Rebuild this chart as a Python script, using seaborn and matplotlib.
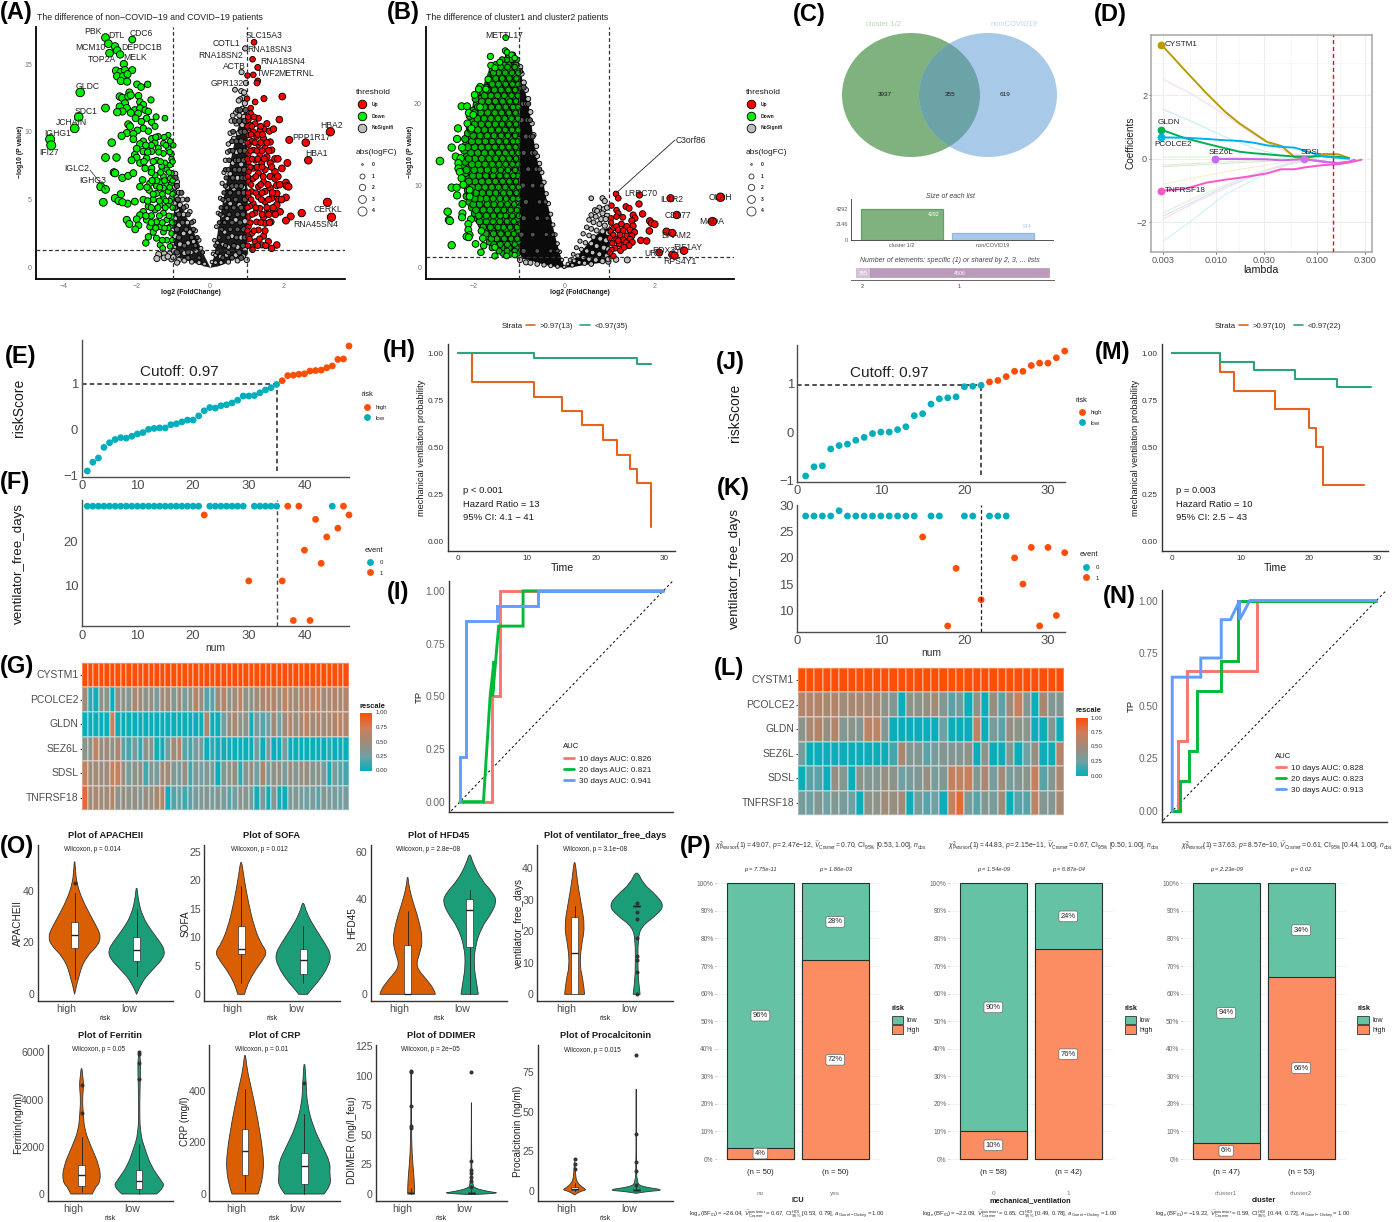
import numpy as np
import pandas as pd
import matplotlib
matplotlib.use("Agg")
import matplotlib.pyplot as plt
from matplotlib.lines import Line2D
from matplotlib.patches import Ellipse, Patch, PathPatch
from matplotlib.path import Path
from matplotlib.colors import LinearSegmentedColormap
from matplotlib.transforms import ScaledTranslation
import seaborn as sns

sns.set_theme(style="white")
plt.rcParams["font.family"] = ["Liberation Sans", "DejaVu Sans"]
plt.rcParams["mathtext.fontset"] = "custom"
plt.rcParams["mathtext.rm"] = "Liberation Sans"
plt.rcParams["mathtext.it"] = "Liberation Sans:italic"
plt.rcParams["mathtext.bf"] = "Liberation Sans:bold"

# ------------------------------------------------------------------ data
# (A) volcano: non-COVID-19 vs COVID-19
a_down = [(-2.85,16.95),(-2.77,16.5),(-2.59,16.3),(-2.53,16.0),(-2.74,15.8),(-2.12,16.8),(-2.45,15.7),(-2.35,15.0),(-2.56,14.5),(-2.44,14.4),(-2.32,14.55),(-2.12,14.55),(-2.53,14.1),(-2.37,14.1),(-2.25,14.25),(-2.43,13.75),(-2.26,13.7),(-1.99,13.5),(-1.88,13.3),(-1.7,13.5),(-3.54,12.9),(-2.2,12.9),(-2.46,12.6),(-2.39,12.5),(-2.23,12.6),(-2.16,12.7),(-1.95,12.65),(-1.61,12.35),(-1.91,12.2),(-2.32,12.1),(-2.46,11.85),(-2.85,11.75),(-1.82,12),(-2.27,11.75),(-2.05,11.6),(-1.91,11.75),(-1.77,11.6),(-2.39,11.5),(-2.16,11.4),(-1.96,11.35),(-1.68,11.5),(-2.53,11.45),(-3.58,11.1),(-2.03,11),(-1.73,11),(-1.47,11.1),(-1.23,11),(-1.87,10.75),(-1.59,10.7),(-2.23,10.55),(-2.18,10.4),(-1.82,10.25),(-1.98,10.1),(-1.5,10.4),(-1.68,10.05),(-3.69,10.25),(-4.36,9.45),(-4.33,9.0),(-2.27,9.9),(-2.09,9.85),(-2.41,9.7),(-1.41,9.65),(-1.14,9.75),(-1.59,9.5),(-2.09,9.45),(-1.82,9.3),(-2.68,9.2),(-1.5,9.2),(-1.27,9.15),(-1.09,9.3),(-1.91,9.1),(-1.68,8.9),(-1.0,9),(-1.41,8.8),(-1.14,8.8),(-2.0,8.75),(-1.82,8.55),(-1.59,8.55),(-1.27,8.4),(-1.05,8.35),(-2.05,8.3),(-2.85,8.1),(-2.55,8.1),(-2,8.1),(-1.73,8.05),(-1.46,7.9),(-2.14,7.9),(-1.05,8),(-1.23,7.7),(-1.91,7.7),(-1.59,7.3),(-1.32,7.45),(-1.09,7.55),(-1.77,7.3),(-1.18,7.2),(-2.62,7),(-2.59,6.95),(-1.05,6.95),(-2.39,6.6),(-2.23,6.75),(-2.09,6.95),(-1.5,6.8),(-1.27,6.7),(-1.09,6.55),(-1.84,6.45),(-1.36,6.3),(-1.64,6.2),(-1.18,6.1),(-1.05,6.2),(-1.46,6),(-1.27,5.85),(-1.91,5.95),(-2.98,5.95),(-2.85,5.75),(-2.43,5.4),(-1.66,5.7),(-1.46,5.45),(-1.14,5.6),(-2.59,5.1),(-2.49,4.9),(-1.82,5),(-1.55,5),(-1.27,5.1),(-1.05,5.1),(-2.91,4.8),(-2.25,4.7),(-2.05,4.85),(-2.39,4.8),(-1.36,4.6),(-1.14,4.6),(-1.68,4.5),(-1.5,4.25),(-1.82,4.1),(-1.27,4),(-1.91,3.85),(-2,3.55),(-2.27,3.5),(-1.05,3.75),(-1.73,3.5),(-1.46,3.35),(-1.18,3.5),(-2.2,3.2),(-1.95,3.1),(-2.04,2.8),(-1.64,3),(-1.36,3),(-1.09,3),(-1.55,2.6),(-1.27,2.6),(-1.05,2.5),(-1.68,2.25),(-1.46,2.15),(-1.18,2.0),(-1.75,1.8),(-1.36,1.65),(-1.09,1.55),(-1.29,1.4)]
a_down_rows = {2.0:[-1.03,-1.3],2.9:[-1.14,-1.24,-1.48],3.3:[-1.03,-1.3,-1.6],3.8:[-1.12,-1.38,-1.6,-1.75],4.4:[-1.02,-1.22,-1.42,-1.6],4.9:[-1.1,-1.2,-1.38,-1.7],5.4:[-1.02,-1.3,-1.55],5.9:[-1.1,-1.37,-1.72],6.4:[-1.02,-1.24,-1.45,-1.58],7.0:[-1.12,-1.35,-1.6],7.8:[-1.02,-1.35,-1.55,-1.8],8.5:[-1.1,-1.4,-1.7],9.0:[-1.2,-1.6,-1.75],9.6:[-1.25,-1.48]}
a_up = [(1.2,16.6),(1.16,15.35),(1.3,14.75),(1.02,14.15),(1.18,14.2),(1.3,13.75),(1.28,13.6),(1.97,12.6),(1.47,12.45),(1.01,12.45),(1.23,12.2),(1.11,11.75),(1.11,11.35),(1.89,10.9),(1.05,10.9),(1.32,11),(1.55,10.6),(1.23,10.6),(1.09,10.5),(1.46,10.2),(1.62,10.05),(1.73,10.2),(1.36,10.1),(1.05,10.25),(1.18,10),(3.28,10),(2.61,9.2),(2.16,9.4),(1.27,9.65),(1.05,9.75),(1.46,9.5),(1.14,9.3),(1.64,9.25),(1.32,9.05),(1.05,9.05),(1.5,8.8),(1.18,8.65),(1.68,8.65),(1.05,8.4),(1.36,8.3),(1.55,8.15),(1.77,8),(2.11,7.7),(2.68,7.9),(1.23,7.9),(1.05,7.8),(1.41,7.7),(1.64,7.7),(1.96,7.3),(1.18,7.3),(1.5,7.2),(1.77,7.05),(1.05,7.05),(1.32,6.95),(1.64,6.7),(1.18,6.55),(1.77,6.55),(1.05,6.3),(1.46,6.3),(2.07,6.25),(2.09,6.0),(2.14,5.95),(1.32,5.95),(1.82,6.05),(1.64,5.85),(1.14,5.6),(1.5,5.6),(1.82,5.45),(1.05,5.2),(1.32,5.2),(2.07,5.15),(1.68,5.1),(1.87,5),(1.5,4.85),(1.18,4.7),(3.2,4.8),(1.82,4.6),(1.09,4.5),(1.36,4.35),(1.73,4.1),(1.91,4.1),(1.55,4),(2.5,4),(1.23,4),(1.05,3.75),(1.46,3.7),(2.2,3.75),(3.31,3.7),(2.07,3.45),(1.66,3.35),(1.27,3.35),(1.5,3.25),(1.05,3),(1.32,2.75),(1.14,2.5),(1.46,2.3),(1.05,2.25),(1.59,1.9),(1.23,1.9),(1.82,1.65),(1.41,1.65),(1.14,1.5),(1.68,1.4),(1.16,1.3)]
a_up_rows = {1.6:[1.03,1.3,1.52],2.1:[1.08,1.35],2.7:[1.2,1.5,1.02],3.3:[1.1,1.38,1.62],3.9:[1.15,1.42,1.6,1.78],4.4:[1.02,1.25,1.55,1.72],5.0:[1.12,1.4,1.6,1.95],5.5:[1.04,1.25,1.42,1.7],6.1:[1.12,1.38,1.58,1.9],6.7:[1.03,1.25,1.45,1.85],7.4:[1.1,1.28,1.42,1.68],8.0:[1.02,1.15,1.3,1.48,1.85],8.6:[1.1,1.28,1.42,1.6],9.2:[1.02,1.22,1.38,1.55],9.8:[1.12,1.3,1.43],10.4:[1.02,1.14,1.38],11.1:[1.04,1.2]}
a_grey = [(.96,16.15),(.86,14.4),(.98,13.6),(.68,13.1),(.85,13),(.93,12.9),(.9,12.5),(.82,12.4),(.78,12.3),(.95,12.1),(.88,11.7),(.7,11.4),(.62,11.2),(.8,11.2),(.93,11.1),(.58,10.8),(.72,10.6),(.88,10.5),(.55,9.9),(.78,9.9),(.65,9.5),(.5,9.1),(.92,9.2),(.48,8.5),(.72,8.5),(.42,7.9),(.62,7.7),(.85,7.6),(.38,7),(.55,6.9),(.75,6.6),(.33,6.2),(.47,5.9),(.65,5.8),(.9,5.9),(.28,5.1),(.4,4.9),(.55,4.7),(.8,4.6),(.22,4),(.33,3.8),(.47,3.6),(.7,3.5),(.95,3.4),(.17,3),(.28,2.8),(.4,2.6),(.6,2.3),(.85,2.2),(.12,2),(.2,1.8),(.35,1.7),(.5,1.5),(.75,1.5),(.95,1.35),(.08,1),(.15,.9),(.28,.8),(.45,.9),(.7,.9),(.9,.8),(1.0,.55),(.05,.4),(.15,.35),(.3,.35),(.5,.4),(.75,.5),(-.95,6.9),(-.98,6.5),(-.9,6.3),(-.96,5.9),(-.85,5.5),(-.92,5.2),(-.75,5),(-.97,4.7),(-.82,4.6),(-.65,4.5),(-.9,4.2),(-.55,4.1),(-.72,3.9),(-.96,3.6),(-.45,3.4),(-.62,3.3),(-.85,3.1),(-.4,2.7),(-.55,2.6),(-.72,2.5),(-.95,2.3),(-.3,2),(-.45,1.9),(-.6,1.8),(-.82,1.7),(-.98,1.45),(-.25,1.4),(-.38,1.2),(-.52,1.1),(-.7,1.05),(-.88,.95),(-1.1,1.0),(-1.25,1.0),(-1.4,.95),(-1.45,.65),(-1.25,.7),(-1.05,.6),(-.85,.55),(-.7,.5),(-.5,.4),(-.3,.35),(-.15,.25),(-.9,.35),(-1.15,.8),(-1.0,.75),(-.98,1.2)]
a_grey_rows = {.7:[-.6,-.3,.35,.6,.85],1.1:[-.9,-.6,-.2,.2,.5,.8],1.6:[-.7,-.4,.15,.42,.65,.9],2.2:[-.85,-.5,-.35,.25,.5,.72,.95],2.8:[-.9,-.65,-.45,.32,.55,.75,.92],3.3:[-.98,-.75,-.5,.25,.4,.6,.82],3.9:[-.85,-.6,.28,.52,.75,.9],4.4:[-.95,-.72,.3,.45,.65,.85],5.0:[-.88,-.62,.35,.5,.7,.95],5.5:[-.98,-.78,.38,.55,.78,.92],6.0:[-.9,.42,.6,.72,.85],6.6:[-.94,.44,.62,.88,.97],7.2:[.42,.5,.68,.8,.93],7.9:[.52,.7,.78,.92],8.6:[.55,.62,.82,.95],9.3:[.6,.72,.85],10.0:[.63,.85,.95],10.8:[.68,.8,.95],11.6:[.75,.82,.97]}
# envelope of the dense non-significant wedge
a_cloud_x = [-1,-.85,-.7,-.5,-.3,-.15,0,.1,.2,.3,.4,.5,.6,.7,.8,.9,1]
a_cloud_hi = [5.8,5,4,2.9,1.7,.8,0,.9,2.7,4.3,5.8,7.3,8.6,9.8,10.8,11.4,11.5]
a_cloud_lo = [.9,.75,.6,.4,.25,.1,0,.06,.1,.2,.3,.45,.6,.7,.8,.85,.9]

# (B) volcano: cluster1 vs cluster2
b_down = [(-1.3,28.1),(-1.31,26.5),(-1.27,26.3),(-1.64,25.8),(-1.17,26),(-1.1,25.6),(-1.63,24.7),(-1.43,25.1),(-1.54,24.4),(-1.69,23),(-1.87,22.1),(-1.9,21.8),(-1.74,21.8),(-1.99,21.1),(-2.28,19.7),(-2.16,19.7),(-1.87,19.6),(-2.12,18.9),(-2.02,18.65),(-2.15,17.6),(-2.36,17),(-2.06,17),(-2.38,15.7),(-2.5,14.65),(-2.27,14.65),(-2.76,13),(-2.41,13.55),(-2.3,13.35),(-2.35,12.75),(-2.35,12.1),(-2.32,11.67),(-2.28,10.9),(-2.24,10.1),(-2.5,9.75),(-2.39,9.75),(-2.1,9.45),(-2.38,8.8),(-2.1,8.65),(-2.26,7.75),(-2.59,6.8),(-2.26,6.6),(-2.56,5.8),(-2.54,5.67),(-2.27,6.12),(-2.07,5.88),(-2.13,5.3),(-2.13,4.57),(-1.84,4.45),(-2.1,3.96),(-2.17,3.76),(-2.12,3.67),(-1.81,3.55),(-1.97,2.86),(-2.5,2.7),(-1.79,2.65),(-1.85,1.84),(-1.54,1.39),(-1.54,2.45),(-1.28,1.39),(-1.1,1.5)]
b_down_rows = {
 1.7:[-1.03,-1.19,-1.36], 2.4:[-1.06,-1.22,-1.38,-1.6], 3.1:[-1.02,-1.15,-1.31,-1.47,-1.66],
 3.8:[-1.07,-1.21,-1.37,-1.53,-1.7], 4.5:[-1.03,-1.16,-1.28,-1.44,-1.6,-1.76], 5.2:[-1.08,-1.23,-1.39,-1.52,-1.68,-1.84],
 5.9:[-1.04,-1.17,-1.31,-1.46,-1.62,-1.77,-1.92], 6.6:[-1.09,-1.24,-1.37,-1.55,-1.7,-1.86,-1.99], 7.3:[-1.02,-1.15,-1.3,-1.45,-1.6,-1.75,-1.93,-2.05],
 8.0:[-1.06,-1.21,-1.36,-1.5,-1.66,-1.82,-1.97,-2.11], 8.7:[-1.03,-1.17,-1.32,-1.47,-1.62,-1.78,-1.9,-2.03,-2.17], 9.4:[-1.08,-1.24,-1.4,-1.55,-1.7,-1.86,-2.0,-2.14],
 10.1:[-1.04,-1.19,-1.33,-1.48,-1.63,-1.79,-1.93,-2.08,-2.2], 10.8:[-1.1,-1.26,-1.41,-1.57,-1.72,-1.87,-2.02,-2.15], 11.5:[-1.02,-1.16,-1.3,-1.46,-1.6,-1.76,-1.9,-2.05,-2.2],
 12.2:[-1.07,-1.22,-1.38,-1.53,-1.68,-1.83,-1.97,-2.12,-2.25], 12.9:[-1.03,-1.18,-1.33,-1.47,-1.63,-1.79,-1.94,-2.08,-2.2], 13.6:[-1.09,-1.25,-1.4,-1.56,-1.71,-1.86,-2.01,-2.16],
 14.3:[-1.04,-1.19,-1.34,-1.49,-1.65,-1.8,-1.95,-2.1,-2.22], 15.0:[-1.1,-1.26,-1.41,-1.57,-1.73,-1.88,-2.03,-2.18], 15.7:[-1.02,-1.17,-1.32,-1.48,-1.63,-1.78,-1.93,-2.09,-2.2],
 16.4:[-1.07,-1.23,-1.39,-1.54,-1.69,-1.85,-2.0,-2.14], 17.1:[-1.03,-1.18,-1.34,-1.49,-1.64,-1.8,-1.95,-2.1], 17.8:[-1.09,-1.25,-1.41,-1.56,-1.72,-1.87,-2.03],
 18.5:[-1.04,-1.2,-1.35,-1.5,-1.66,-1.82,-1.96,-2.1], 19.2:[-1.1,-1.26,-1.42,-1.58,-1.73,-1.88,-2.02], 19.9:[-1.03,-1.18,-1.34,-1.5,-1.65,-1.8,-1.95],
 20.6:[-1.08,-1.24,-1.4,-1.56,-1.72,-1.86,-1.97], 21.3:[-1.04,-1.2,-1.36,-1.52,-1.67,-1.8], 22.0:[-1.1,-1.27,-1.43,-1.58,-1.73],
 22.7:[-1.03,-1.19,-1.35,-1.5,-1.64], 23.4:[-1.08,-1.24,-1.41,-1.55], 24.1:[-1.04,-1.2,-1.36,-1.48,-1.6],
 24.8:[-1.07,-1.23,-1.33,-1.52], 25.4:[-1.05,-1.17,-1.28,-1.38], 26.0:[-1.14,-1.24],
 2.0:[-1.1,-1.27,-1.45], 2.8:[-1.1,-1.26,-1.42,-1.56], 3.5:[-1.04,-1.18,-1.33,-1.5,-1.62],
 4.1:[-1.12,-1.25,-1.41,-1.57,-1.74], 4.9:[-1.05,-1.2,-1.35,-1.47,-1.64,-1.8], 5.6:[-1.12,-1.27,-1.43,-1.58,-1.73,-1.88],
 6.3:[-1.01,-1.15,-1.3,-1.42,-1.57,-1.73,-1.9], 7.0:[-1.05,-1.19,-1.34,-1.49,-1.65,-1.8,-1.96], 7.7:[-1.11,-1.26,-1.41,-1.56,-1.71,-1.88,-2.02],
 8.4:[-1.02,-1.14,-1.29,-1.43,-1.58,-1.73,-1.86,-1.99], 9.1:[-1.06,-1.21,-1.35,-1.52,-1.66,-1.82,-1.96,-2.1], 9.8:[-1.01,-1.15,-1.31,-1.46,-1.61,-1.76,-1.91,-2.05],
 10.5:[-1.07,-1.22,-1.37,-1.53,-1.68,-1.83,-1.98,-2.12], 11.2:[-1.03,-1.13,-1.28,-1.43,-1.58,-1.74,-1.89,-2.03], 11.9:[-1.09,-1.25,-1.41,-1.56,-1.71,-1.86,-2.0,-2.17],
 12.6:[-1.02,-1.15,-1.3,-1.45,-1.6,-1.76,-1.91,-2.05], 13.3:[-1.07,-1.22,-1.37,-1.52,-1.67,-1.83,-1.98,-2.12], 14.0:[-1.02,-1.16,-1.31,-1.46,-1.62,-1.77,-1.92,-2.07],
 14.7:[-1.08,-1.23,-1.38,-1.54,-1.69,-1.84,-1.99,-2.14], 15.4:[-1.03,-1.14,-1.29,-1.45,-1.6,-1.75,-1.9,-2.05], 16.1:[-1.09,-1.25,-1.4,-1.56,-1.71,-1.87,-2.02],
 16.8:[-1.02,-1.16,-1.31,-1.46,-1.62,-1.77,-1.92,-2.07], 17.5:[-1.07,-1.22,-1.38,-1.53,-1.68,-1.84,-1.99], 18.2:[-1.03,-1.17,-1.32,-1.47,-1.63,-1.78,-1.93],
 18.9:[-1.08,-1.23,-1.39,-1.54,-1.7,-1.85,-1.99], 19.6:[-1.02,-1.14,-1.3,-1.46,-1.62,-1.77,-1.92], 20.3:[-1.07,-1.21,-1.37,-1.53,-1.68,-1.83],
 21.0:[-1.03,-1.17,-1.33,-1.48,-1.63,-1.77], 21.7:[-1.09,-1.24,-1.4,-1.55,-1.7], 22.4:[-1.02,-1.15,-1.3,-1.46,-1.6], 23.1:[-1.06,-1.22,-1.38,-1.52], 23.8:[-1.02,-1.16,-1.31,-1.46,-1.57], 24.5:[-1.1,-1.26,-1.41]}
b_up = [(1.15,8.98),(1.2,8.45),(1.67,8.85),(2.36,8.45),(3.47,8.57),(1.05,7.55),(1.37,7.43),(1.44,7.22),(1.66,7.75),(1.16,7),(1.2,6.6),(1.16,6.2),(1.3,6.12),(2.5,6.4),(1.74,6.53),(1.53,6.4),(1.57,6),(1.5,5.7),(1.04,6),(3.29,5.6),(1.9,5.67),(1.94,5.4),(2.01,5.27),(1.04,5.47),(1.53,5.06),(1.27,5.3),(1.09,4.78),(1.16,5),(1.39,5),(1.46,4.57),(1.03,4.37),(1.2,4.57),(1.31,4.5),(1.89,4.45),(1.56,4.29),(2.27,4.37),(2.4,4.2),(1.09,3.96),(1.24,3.96),(1.39,3.84),(1.5,3.84),(1.01,3.55),(1.16,3.43),(1.31,3.35),(1.46,3.43),(1.7,3.3),(1.83,3.22),(1.07,2.94),(1.22,2.86),(1.37,3.02),(1.51,3.06),(1.13,2.33),(1.25,2.04),(1.44,2.65),(1.05,2.12),(2.66,2.04),(2.11,1.8),(2.4,1.55),(2.45,1.43),(1.09,1.39),(1.01,1.8),(1.33,2.45),(1.2,3.27)]
b_grey = [(-.98,24.5),(-.95,23.7),(-.9,22.6),(-.85,21.7),(-.8,20.6),(-.75,19),(-.72,17.6),(-.68,16.2),(-.62,14.8),(-.6,13.6),(-.55,12.7),(-.5,11.6),(-.45,10.4),(-.4,9),(-.35,7.8),(-.3,6.5),(-.25,5.2),(-.2,4),(-.15,2.9),(-.1,1.9),(-.05,.9),(-1,1.3),(-.98,.9),(-.85,.6),(-.75,.55),(-.6,.4),(-.45,.3),(-.3,.2),(-.15,.1),(0,.05),(.6,8.45),(.85,8.45),(.9,8.1),(.78,7.3),(.88,7.1),(.95,7.3),(.68,7),(.73,6.9),(.85,6.6),(.95,6.3),(.6,6.4),(.7,6.2),(.82,5.9),(.92,5.9),(.55,5.8),(.65,5.5),(.78,5.3),(.9,5.1),(.5,4.9),(.6,4.7),(.72,4.5),(.85,4.4),(.97,4.2),(.42,4.1),(.55,3.9),(.65,3.7),(.8,3.5),(.93,3.3),(.35,3.2),(.47,3),(.6,2.9),(.72,2.6),(.88,2.4),(.98,2.2),(.27,2.4),(.38,2.2),(.5,2),(.63,1.8),(.78,1.6),(.95,1.4),(.2,1.6),(.3,1.4),(.42,1.2),(.55,1),(.7,.9),(.85,.75),(.98,.7),(.13,.9),(.22,.8),(.33,.6),(.45,.5),(.6,.4),(.08,.4),(.18,.25),(1.15,.95),(1.4,.9),(.98,1.0)]
b_grey_rows = {2:[-.9,-.6,-.3,-.15],4:[-.95,-.7,-.4,-.25],6:[-.9,-.6,-.38],8:[-.85,-.55,-.42],10:[-.92,-.7,-.5],12:[-.8,-.62,-.55],14:[-.9,-.72,-.65],16:[-.85,-.75,-.7],18:[-.95,-.82,-.76],20:[-.92,-.85,-.8],22:[-.97,-.9],24:[-.98]}
b_cloud_x = [-1,-.9,-.8,-.7,-.6,-.5,-.4,-.3,-.2,-.1,0,.2,.4,.6,.8,1]
b_cloud_hi = [24.5,22,20,16,13,11,8.3,6,3.6,1.6,0,1,2.2,3.5,4.5,5]
b_cloud_lo = [1.2,1.05,.95,.8,.6,.45,.3,.2,.1,.05,0,.1,.3,.45,.6,.7]
b_dense_x = [-2.15,-2.0,-1.9,-1.8,-1.7,-1.5,-1.3,-1.15,-1]
b_dense_hi = [18,20.5,21.5,22.5,24,25,26,26,25]
b_dense_lo = [9,7,5.5,4.5,3.5,2.5,2,1.6,1.4]

a_labels = [("PBK",280,95),("DTL",350,108),("CDC6",425,102),("MCM10",270,143),("DEPDC1B",424,142),("TOP2A",306,180),("MELK",406,174),("GLDC",264,259),("SDC1",259,333),("JCHAIN",214,367),("IGHG1",174,400),("IFI27",146,457),("IGLC2",231,506),("IGHG3",277,542),("SLC15A3",792,108),("COTL1",679,132),("RNA18SN3",810,150),("RNA18SN2",663,165),("RNA18SN4",848,184),("ACTB",702,199),("TWF2",805,222),("METRNL",889,222),("GPR132",681,251),("HBA2",995,378),("PPP1R17",934,412),("HBA1",948,462),("CERKL",985,628),("RNA45SN4",946,673)]
b_labels = [("METTL17",314,105),("C3orf86",874,421),("LRRC70",723,582),("IL1R2",815,598),("OLAH",961,593),("CD177",835,645),("MADA",936,665),("DAAM2",828,708),("EIF1AY",864,743),("RDX3Y",800,752),("URY",760,760),("RPS4Y1",840,785)]

# (C) Venn and list sizes
venn_counts = {"cluster only": 3937, "shared": 355, "non only": 619}
list_names = ["cluster 1/2", "non/COVID19"]
list_sizes = [4292, 974]
shared_sizes = [355, 4506]

# (D) LASSO paths
lam_grid = [0.0029,0.0049,0.0081,0.0123,0.0171,0.0239,0.0319,0.0445,0.0595,0.0762,0.1155,0.161,0.207]
coef_cystm1 = [3.58,2.79,2.05,1.48,1.11,.80,.53,.40,.06,0,.15,.14,.02]
coef_gldn = [.91,.65,.47,.33,.22,.17,.14,.10,.07,.07,.08,.06,.02]
coef_pcolce2 = [.67,.66,.62,.58,.56,.50,.42,.37,.35,.25,.07,.03,0]
lam_sez6l = [.0097,.0171,.0239,.0319,.0445,.0595,.0762,.1155,.161,.207,.235]
coef_sez6l = [-.01,-.01,-.01,-.02,-.05,-.03,-.02,-.10,-.13,-.09,-.03]
lam_sdsl = [.0735,.1155,.161,.207,.235]
coef_sdsl = [-.02,-.08,-.15,-.1,-.05]
lam_tnf = lam_grid + [.276]
coef_tnf = [-1.0,-.95,-.75,-.66,-.60,-.53,-.46,-.33,-.33,-.27,-.2,-.17,-.12,-.03]
lam_faint = [0.003,0.006,0.012,0.025,0.05,0.1]
faint_paths = {"#FBD5EE":[2.5,2.0,1.4,.7,.2,0],"#BDEBF5":[1.55,1.15,.7,.3,.08,0],"#D6F0D6":[.05,.06,.05,.02,0,0],"#E6E6D0":[-.2,-.15,-.1,-.05,-.02,0],"#CDEBD0":[-.25,-.2,-.15,-.1,-.04,0],"#F3EFC8":[-.8,-.6,-.42,-.25,-.1,0],"#DCEFD5":[-1.7,-1.25,-.85,-.45,-.15,0],"#CFE4F5":[-1.8,-1.35,-.9,-.5,-.18,0],"#FAD9F0":[-1.9,-1.4,-.95,-.5,-.15,0],"#C9F0F8":[-2.6,-1.9,-1.15,-.62,-.2,0]}
lam_cut = 0.1445

# (E)(F) training risk
risk_e = [-.9,-.71,-.62,-.39,-.29,-.22,-.18,-.19,-.15,-.1,-.07,0,.02,.03,.03,.1,.12,.16,.2,.2,.29,.4,.47,.46,.51,.53,.57,.63,.72,.72,.73,.79,.85,.9,.97,1.05,1.16,1.17,1.19,1.2,1.26,1.27,1.28,1.33,1.37,1.51,1.52,1.8]
days_f = [28]*21+[26]+[28]*7+[11]+[28]*5+[11,28,2,28,18,2,25,15,21,28,23,28,26]
event_f = [0]*21+[1]+[0]*7+[1]+[0]*5+[1,1,1,1,1,1,1,1,1,0,1,1,1]
genes = ["CYSTM1","PCOLCE2","GLDN","SEZ6L","SDSL","TNFRSF18"]
heat_g = [
 [1]*48,
 [.5,.1,.05,.4,.4,0,.45,.4,.35,.55,.5,.4,.45,.3,.5,.5,.35,.5,.3,.4,.6,.45,.2,.2,.5,.6,.4,.5,.65,.4,.4,.5,.55,.6,.6,.45,.65,.55,.5,.6,.6,.65,.7,.5,.55,.6,.55,.6],
 [.02,.02,.02,.02,.02,.7,.02,.02,.02,.02,.02,.02,.02,.02,.02,.03,.03,.03,.03,.03,.03,.03,.55,.03,.03,.3,.45,.55,.4,.4,.05,.3,.2,.25,.5,.25,.5,.6,.45,.55,.65,.5,.6,.5,.55,.6,.65,.6],
 [.4,.4,.65,.45,.5,.4,.55,.2,.15,.3,.1,.4,.4,.05,.05,.3,.5,.6,.2,.15,.3,.3,.02,.1,.05,.05,.05,.02,.02,.02,.02,.3,.02,.3,.02,.02,.3,.02,.02,.02,.02,.02,.02,.02,.1,.02,.02,.02],
 [.7,.5,.5,.45,.5,.7,.7,.45,.3,.4,.45,.15,.35,.3,.5,.5,.35,.3,.45,.15,.35,.25,.35,.3,.02,.35,.4,.45,.1,.35,.45,.25,.55,.3,.4,.45,.3,.45,.35,.45,.45,.35,.4,.3,.05,.3,.2,.15],
 [.85,.5,.55,.5,.5,.6,.4,.45,.4,.45,.35,.45,.45,.55,.6,.05,.2,.25,.15,.2,.3,.35,.35,.3,.35,.3,.2,.25,.4,.35,.3,.05,.3,.02,.35,.05,.02,.3,.35,.3,.25,.3,.2,.35,.3,.3,.25,.3]]

# (H)(I) training survival / ROC
km_h_hi_t = [0,2,11,15,18,21,23,25,26,28,28]
km_h_hi_s = [1,.846,.769,.692,.615,.538,.46,.385,.307,.077,.077]
km_h_lo_t = [0,11,26,28]
km_h_lo_s = [1,.971,.943,.943]
roc_i = {
 "10 days AUC: 0.826": ([0,.155,.155,.195,.195,.3,1],[0,0,.5,.5,1,1,1]),
 "20 days AUC: 0.821": ([0,.115,.148,.167,.16,.19,.31,.31,.375,1],[0,0,.5,.667,.5,.833,.833,1,1,1]),
 "30 days AUC: 0.941": ([0,0,.03,.03,.18,.18,.385,.385,1],[0,.214,.214,.857,.857,.929,.929,1,1])}

# (J)(K)(L) validation risk
risk_j = [-.91,-.72,-.7,-.35,-.28,-.25,-.17,-.11,-.03,0,0,.05,.11,.34,.38,.58,.69,.71,.73,.94,.95,.97,1.04,1.07,1.15,1.26,1.26,1.38,1.43,1.43,1.54,1.68]
days_k = [28,28,28,28,29,28,28,28,28,28,28,28,28,28,24,28,28,7,18,28,28,12,28,28,28,20,15,22,7,22,9,21]
event_k = [0]*14+[1,0,0,1,1,0,0,1,0,0,0,1,1,1,1,1,1,1]
heat_l = [
 [1]*32,
 [.6,.6,.6,.55,.6,.5,.55,.55,.55,.55,.4,.35,.02,.4,.4,.45,.5,.35,.2,.3,.02,.4,.02,.45,.2,.5,.7,.35,.02,.55,.35,.35],
 [.4,.55,.6,.45,.6,.35,.4,.35,.65,.65,.35,.03,.03,.03,.03,.03,.03,.25,.03,.03,.03,.65,.03,.3,.2,.45,.4,.4,.03,.03,.35,.03],
 [.3,.03,.03,.03,.03,.03,.03,.03,.03,.03,.03,.15,.55,.35,.35,.2,.3,.35,.35,.35,.4,.03,.4,.03,.03,.35,.03,.25,.45,.03,.03,.6],
 [.03,.2,.2,.03,.45,.35,.03,.4,.35,.35,.45,.4,.25,.3,.35,.45,.3,.35,.7,.65,.7,.35,.55,.3,.5,.3,.35,.4,.7,.2,.35,.55],
 [.3,.25,.35,.25,.35,.3,.25,.03,.4,.4,.5,.45,.5,.03,.3,.2,.25,.03,.7,.85,.3,.2,.35,.3,.5,.03,.2,.2,.65,.35,.35,.55]]

# (M)(N) validation survival / ROC
km_m_hi_t = [0,7,9,15,20,21,22,28]
km_m_hi_s = [1,.9,.8,.7,.6,.5,.3,.3]
km_m_lo_t = [0,7,12,18,24,29]
km_m_lo_s = [1,.955,.91,.864,.818,.818]
roc_n = {
 "10 days AUC: 0.828": ([0,.03,.03,.07,.07,.415,.415,1],[0,0,.333,.333,.667,.667,1,1]),
 "20 days AUC: 0.823": ([0,.04,.04,.08,.08,.12,.12,.24,.24,.32,.32,1],[0,0,.143,.143,.286,.286,.571,.571,.714,.714,1,1]),
 "30 days AUC: 0.913": ([0,0,.14,.14,.24,.24,.285,.33,.33,.38,1],[0,.636,.636,.727,.727,.909,.909,1,.909,1,1])}

# (O) violin profiles: (value, half width in reference zoom units)
apache_high = ([0,8,14.5,19,22.3,24.8,30,36.4,42.8,48,52.5],[0,10,27,55,60,55,38,18,5,2,0])
apache_low = ([0,5,10,14,17,20,25,30,36,43],[0,12,40,62,65,55,32,14,4,0])
sofa_high = ([0,1.3,3.7,6,7.4,9,11.9,16,20.7,24],[8,12,28,50,60,45,30,17,6,0])
sofa_low = ([0,.8,2.5,4.9,6.9,9,11.3,14.2,16.6],[10,18,38,58,65,50,30,8,0])
hfd_high = ([0,1.8,6,11.7,17.3,22.9,31.3,38.4,45.4,51],[64,62,45,18,28,35,26,13,3,0])
hfd_low = ([0,6,11.7,20,28.5,34,39,42.6,48,55,60],[20,15,10,12,28,50,62,55,28,8,0])
vent_high = ([0,4.5,8.8,15,21.4,28.8,36,43.8],[23,20,12,15,24,15,6,0])
vent_low = ([0,4.5,8.8,17.2,21.4,25,28,31.5,35,39.6],[8,4,3,3,10,45,64,45,15,0])
ferr_high = ([0,240,522,1158,2005,2710,3417,3981,4617,4970,5464],[25,30,44,42,22,7,4,2,5,3,0])
ferr_low = ([0,310,593,1158,1864,2570,3840,5110,5675,6057],[40,60,50,28,14,2,1,3,3,0])
crp_high = ([0,28,93,157,286,415,480,557],[30,36,43,42,30,14,5,0])
crp_low = ([0,35,80,119,183,260,351,428,534],[45,62,58,60,42,20,6,4,0])
ddimer_high = ([0,6,17.5,34,62,121.6],[8,8,6,2,.5,0])
ddimer_low = ([-.5,.5,2,4.8,7.6,20,103],[0,70,40,8,3,.4,0])
procal_high = ([-2.5,-.4,.6,2,4.8,9,22.6],[0,10,28,20,7,2,0])
procal_low = ([-1.5,-.4,.6,2.7,5.9,15,86.5],[0,20,70,10,2,.4,0])
# box summaries: q1, median, q3, whisker low, whisker high, outliers
box_stats = {
 "apache_high":(18,23,28,6,39,[43]),"apache_low":(13,17,22,7,33,[]),
 "sofa_high":(7,8,12,2,19,[]),"sofa_low":(3.5,6,8,2,12,[]),
 "hfd_high":(0,0,21,0,35,[]),"hfd_low":(20,35.5,40,0,44,[]),
 "vent_high":(0,13,24.5,0,28,[]),"vent_low":(27.7,28,28.2,27.7,28.2,[29,26,24,18,12,11,7,0]),
 "ferr_high":(360,820,1230,100,2400,[3430,4610]),"ferr_low":(200,570,1000,0,2100,[4850,5530,5950,6000]),
 "crp_high":(75,165,253,10,405,[]),"crp_low":(40,110,157,0,310,[430]),
 "ddimer_high":(.5,1,2,0,5,[57,56,74,103,104]),"ddimer_low":(.6,1,1.6,0,3,[103,28,20,18,14,11,6]),
 "procal_high":(.5,1,2.5,0,5,[14,17,20]),"procal_low":(.3,.6,1.5,0,3,[86,36,18,12.5,4])}

# (P) stacked proportions
p_cats = [["no","yes"],["0","1"],["cluster1","cluster2"]]
p_high = [[.04,.72],[.10,.76],[.06,.66]]
p_n = [[50,50],[58,42],[47,53]]
p_pvals = [["7.75e-11","1.86e-03"],["1.54e-09","6.87e-04"],["2.23e-09","0.02"]]
p_xlabels = ["ICU","mechanical_ventilation","cluster"]
p_top = [r"$\chi^2_{\mathrm{Pearson}}(1)=49.07$, $p=2.47\mathrm{e}{-}12$, $\widehat{V}_{\mathrm{Cramer}}=0.70$, CI$_{95\%}$ [0.53, 1.00], $n_{\mathrm{obs}}$",
         r"$\chi^2_{\mathrm{Pearson}}(1)=44.83$, $p=2.15\mathrm{e}{-}11$, $\widehat{V}_{\mathrm{Cramer}}=0.67$, CI$_{95\%}$ [0.50, 1.00], $n_{\mathrm{obs}}$",
         r"$\chi^2_{\mathrm{Pearson}}(1)=37.63$, $p=8.57\mathrm{e}{-}10$, $\widehat{V}_{\mathrm{Cramer}}=0.61$, CI$_{95\%}$ [0.44, 1.00], $n_{\mathrm{obs}}$"]
p_bot = [r"$\log_e(\mathrm{BF}_{01})=-26.04$, $\widehat{V}^{\mathrm{posterior}}_{\mathrm{Cramer}}=0.67$, CI$^{\mathrm{HDI}}_{95\%}$ [0.53, 0.79], $a_{\mathrm{Gunel-Dickey}}=1.00$",
         r"$\log_e(\mathrm{BF}_{01})=-22.09$, $\widehat{V}^{\mathrm{posterior}}_{\mathrm{Cramer}}=0.65$, CI$^{\mathrm{HDI}}_{95\%}$ [0.49, 0.78], $a_{\mathrm{Gunel-Dickey}}=1.00$",
         r"$\log_e(\mathrm{BF}_{01})=-19.22$, $\widehat{V}^{\mathrm{posterior}}_{\mathrm{Cramer}}=0.59$, CI$^{\mathrm{HDI}}_{95\%}$ [0.44, 0.72], $a_{\mathrm{Gunel-Dickey}}=1.00$"]

# ------------------------------------------------------------------ helpers
W, H = 1392, 1222
SXC, SXO, SXP = 1568/572, 1568/680, 1568/712   # horizontal reading scales of the measured crops
fig = plt.figure(figsize=(W/100, H/100), dpi=100, facecolor="white")
DARK = "#333333"; GRAY = "#4D4D4D"
RED = "#FC4E07"; TEAL = "#00AFBB"
ORANGE = "#D95F02"; GREEN = "#1B9E77"

def axpx(l, t, r, b, **kw):
    return fig.add_axes([l/W, 1-b/H, (r-l)/W, (b-t)/H], **kw)

def T(x, y, s, **kw):
    kw.setdefault("ha", "center"); kw.setdefault("va", "center"); kw.setdefault("color", "#1a1a1a")
    return fig.text(x/W, 1-y/H, s, **kw)

def classic(ax, lw=1.0, color=DARK):
    for k in ("top", "right"):
        ax.spines[k].set_visible(False)
    for k in ("left", "bottom"):
        ax.spines[k].set_visible(True)
        ax.spines[k].set_linewidth(lw); ax.spines[k].set_color(color)
    ax.set_facecolor("white"); ax.grid(False)
    ax.set_xlabel(""); ax.set_ylabel("")

def legend_px(handles, labels, left, marker_x, label_x, first_y, pitch, fs, **kw):
    px = fs*100/72
    hl = 2*(marker_x-left)/px
    htp = (label_x-left-2*(marker_x-left))/px
    ls = pitch/px-1.0
    props = kw.pop("prop", {"size": fs})
    leg = fig.legend(handles, labels, loc="upper left", bbox_to_anchor=(left/W, 1-(first_y-0.58*px)/H),
                     frameon=False, prop=props, handlelength=hl, handletextpad=htp, labelspacing=ls,
                     borderpad=0, borderaxespad=0, **kw)
    for t in leg.get_texts():
        t.set_color("#222222")
    return leg

def pts(lst, rows=None):
    lst = list(lst)
    if rows:
        lst += [(x, y) for y, xs in rows.items() for x in xs]
    arr = np.array(lst, dtype=float)
    return arr[:, 0], arr[:, 1]

def volcano(ax, groups, size_norm=(0, 4)):
    for xs, ys, col, z in groups:
        sns.scatterplot(x=xs, y=ys, size=np.abs(xs), sizes=(6, 42), size_norm=size_norm, color=col,
                        edgecolor="black", linewidth=.65, legend=False, ax=ax, zorder=z)

def volcano_finish(ax, xlim, ylim, xt, yt):
    ax.axhline(1.3, color=DARK, ls=(0, (3, 2)), lw=.9, zorder=5)
    ax.axvline(-1, color=DARK, ls=(0, (3, 2)), lw=.9, zorder=5)
    ax.axvline(1, color=DARK, ls=(0, (3, 2)), lw=.9, zorder=5)
    ax.set_xlim(*xlim); ax.set_ylim(*ylim); ax.set_xticks(xt); ax.set_yticks(yt)
    ax.set_xticklabels([str(v).replace("-", "\u2212") for v in xt])
    ax.set_yticklabels([str(v) for v in yt])
    classic(ax, 1.3, "black")
    ax.tick_params(labelsize=5, colors="#777777", length=1.5, width=.5, pad=1.5)

def volcano_legend(left, marker_x, label_x):
    T(left, 92, "threshold", ha="left", fontsize=6)
    h1 = [Line2D([], [], ls="none", marker="o", ms=6.2, mfc=c, mec="black", mew=.6) for c in ("#FF0000", "#00EE00", "#BEBEBE")]
    legend_px(h1, ["Up", "Down", "NoSignifi"], left, marker_x, label_x, 104.7, 11.8, 3.6,
              prop={"size": 3.6, "weight": "bold"})
    T(left, 152, "abs(logFC)", ha="left", fontsize=6)
    sz = [1.2, 3.6, 4.6, 5.6, 6.5]
    h2 = [Line2D([], [], ls="none", marker="o", ms=m, mfc="white", mec="#333333", mew=.6) for m in sz]
    legend_px(h2, ["0", "1", "2", "3", "4"], left, marker_x, label_x, 165, 11.55, 3.6,
              prop={"size": 3.6, "weight": "bold"})

def risk_scatter(ax, y, risk, xlim, ylim, xt, yt):
    n = np.arange(1, len(y)+1)
    sns.scatterplot(x=n, y=y, hue=risk, palette={"high": RED, "low": TEAL, 1: RED, 0: TEAL},
                    s=24, linewidth=0, legend=False, ax=ax, clip_on=False, zorder=3)
    ax.set_xlim(*xlim); ax.set_ylim(*ylim); ax.set_xticks(xt); ax.set_yticks(yt)
    ax.set_yticklabels([str(v).replace("-", "\u2212") for v in yt])
    classic(ax, 1.0, GRAY)
    ax.tick_params(labelsize=9.4, labelcolor=GRAY, length=1.5, width=.6, pad=1, color=GRAY)

def small_legend(title, names, colors, title_x, title_y, marker_x, label_x):
    T(title_x, title_y, title, ha="left", fontsize=5.4)
    h = [Line2D([], [], ls="none", marker="o", ms=3.9, mfc=c, mec=c) for c in colors]
    legend_px(h, names, title_x, marker_x, label_x, title_y+13, 11.7, 4.4)

cmap_rs = LinearSegmentedColormap.from_list("rs", [TEAL, "#6FA0A3", "#A08A78", "#CE7E58", RED])

def heat(l, t, r, b, matrix, bar_l, bar_t, bar_r, bar_b, text_x, title_y):
    ax = axpx(l, t, r, b)
    cax = axpx(bar_l, bar_t, bar_r, bar_b)
    m = np.array(matrix, dtype=float)
    sns.heatmap(m, ax=ax, cmap=cmap_rs, vmin=0, vmax=1, cbar_ax=cax, linewidths=.25,
                linecolor=(1, 1, 1, .3), xticklabels=False, yticklabels=genes)
    ax.set_facecolor("#EBEBEB")
    ax.set_ylim(6.03, -.03)
    ax.tick_params(axis="y", labelsize=7.5, labelcolor=GRAY, length=1.5, width=.6, pad=1, rotation=0, left=True)
    cax.set_yticks([0, .25, .5, .75, 1])
    cax.set_yticklabels([])
    cax.tick_params(length=0)
    for v, s in zip([0, .25, .5, .75, 1], ["0.00", "0.25", "0.50", "0.75", "1.00"]):
        T(text_x, bar_b-(bar_b-bar_t)*v, s, ha="left", fontsize=4.4, color="#333333")
    T(bar_l, title_y, "rescale", ha="left", fontsize=5.4, fontweight="bold")

def km(l, t, r, b, hi, lo, txt_x, txt, leg_x, strata, lab_x, ax_lab_x):
    ax = axpx(l, t, r, b)
    sns.lineplot(x=hi[0], y=hi[1], drawstyle="steps-post", color="#E3651D", lw=1.5, estimator=None, sort=False, ax=ax)
    sns.lineplot(x=lo[0], y=lo[1], drawstyle="steps-post", color="#2BA37F", lw=1.5, estimator=None, sort=False, ax=ax)
    ax.set_xlim(-1.5, 31.5); ax.set_ylim(-.052, 1.048)
    ax.set_xticks([0, 10, 20, 30]); ax.set_yticks([0, .25, .5, .75, 1])
    ax.set_yticklabels(["0.00", "0.25", "0.50", "0.75", "1.00"])
    classic(ax, 1.0, DARK)
    ax.tick_params(labelsize=5.9, labelcolor="#333333", length=1.5, width=.6, pad=1.5)
    for yy, s in zip((490.7, 504.3, 518), txt):
        T(txt_x, yy, s, ha="left", fontsize=6.8)
    T(ax_lab_x, 448, "mechanical ventilation probability", rotation=90, fontsize=6.7)
    T(lab_x, 568, "Time", fontsize=7.6)
    T(leg_x, 326, "Strata", ha="left", fontsize=5.6)
    h = [Line2D([], [], color="#E3651D", lw=1.2), Line2D([], [], color="#2BA37F", lw=1.2)]
    fig.legend(h, strata, loc="center left", bbox_to_anchor=((leg_x+24)/W, 1-326/H), ncol=2, frameon=False,
               prop={"size": 5.6}, handlelength=1.2, handletextpad=.6, columnspacing=.9, borderpad=0, borderaxespad=0)

ROC_COL = ["#F8766D", "#00BA38", "#619CFF"]
def roc(l, t, r, b, xlim, ylim, curves, lab_x, lab_y, leg_left, leg_first):
    ax = axpx(l, t, r, b)
    sns.lineplot(x=[-.06, 1.06], y=[-.06, 1.06], color="black", lw=.7, ls=(0, (2.5, 2.5)), ax=ax, estimator=None, sort=False)
    for (name, (xs, ys)), c in zip(curves.items(), ROC_COL):
        sns.lineplot(x=xs, y=ys, color=c, lw=2.1, estimator=None, sort=False, ax=ax, solid_joinstyle="miter")
    ax.set_xlim(*xlim); ax.set_ylim(*ylim)
    ax.set_xticks([]); ax.set_yticks([0, .25, .5, .75, 1])
    ax.set_yticklabels(["0.00", "0.25", "0.50", "0.75", "1.00"])
    classic(ax, 1.0, DARK)
    ax.tick_params(labelsize=7.3, labelcolor="#666666", length=1.5, width=.6, pad=1.5)
    T(lab_x, lab_y, "TP", rotation=90, fontsize=6.8)
    T(leg_left, leg_first-13, "AUC", ha="left", fontsize=5.6)
    h = [Line2D([], [], color=c, lw=2) for c in ROC_COL]
    legend_px(h, list(curves.keys()), leg_left+1, leg_left+6, leg_left+16, leg_first, 11.6, 5.9)

def violin_patch(ax, pos, profile, dist, color):
    vals, hw = profile
    w = np.array(hw, dtype=float)/dist
    right = list(zip(pos+w, vals))
    left = list(zip(pos-w, vals))[::-1]
    outline = right+left[1:]
    verts = [outline[0]]; codes = [Path.MOVETO]
    n = len(outline)
    for i in range(1, n-1):
        ctl = outline[i]
        nxt = outline[i+1]
        end = nxt if i == n-2 else ((ctl[0]+nxt[0])/2, (ctl[1]+nxt[1])/2)
        verts += [ctl, end]; codes += [Path.CURVE3, Path.CURVE3]
    verts.append(outline[0]); codes.append(Path.CLOSEPOLY)
    ax.add_patch(PathPatch(Path(verts, codes), facecolor=color, edgecolor="#333333", lw=.6, zorder=2))

def box_patch(ax, pos, key, width):
    q1, med, q3, lo, hi, out = box_stats[key]
    stats = [dict(med=med, q1=q1, q3=q3, whislo=lo, whishi=hi, fliers=out)]
    ax.bxp(stats, positions=[pos], widths=width, patch_artist=True, showcaps=False, manage_ticks=False,
           boxprops=dict(facecolor="white", edgecolor="#333333", linewidth=.5),
           medianprops=dict(color="#222222", linewidth=1),
           whiskerprops=dict(color="#222222", linewidth=.6),
           flierprops=dict(marker="o", markersize=1.9, markerfacecolor="#333333", markeredgecolor="#333333"),
           zorder=3)

o_panels = [
 dict(n="APACHEII",k="apache",hi=apache_high,lo=apache_low,l=87,r=400,row=0,c=172,d=143,ylim=(-2.7,57.6),yt=[0,20,40],yl="APACHEII",ylx=42,yly=310,tx=243,wx=212,p="0.014"),
 dict(n="SOFA",k="sofa",hi=sofa_high,lo=sofa_low,l=471,r=785,row=0,c=556,d=143,ylim=(-1.23,26.2),yt=[0,5,10,15,20,25],yl="SOFA",ylx=427,yly=310,tx=627,wx=597,p="0.012"),
 dict(n="HFD45",k="hfd",hi=hfd_high,lo=hfd_low,l=855,r=1168,row=0,c=940,d=143,ylim=(-2.95,62.95),yt=[0,20,40,60],yl="HFD45",ylx=811,yly=310,tx=1012,wx=987,p="2.8e\u221208"),
 dict(n="ventilator_free_days",k="vent",hi=vent_high,lo=vent_low,l=1239,r=1552,row=0,c=1325,d=143,ylim=(-2.2,47.3),yt=[0,10,20,30,40],yl="ventilator_free_days",ylx=1196,yly=310,tx=1396,wx=1371,p="3.1e\u221208"),
 dict(n="Ferritin",k="ferr",hi=ferr_high,lo=ferr_low,l=110,r=400,row=1,c=188,d=133,ylim=(-296,6311),yt=[0,2000,4000,6000],yl="Ferritin(ng/ml)",ylx=42,yly=908,tx=254,wx=228,p="0.05"),
 dict(n="CRP",k="crp",hi=crp_high,lo=crp_low,l=483,r=785,row=1,c=565,d=137,ylim=(-27,577),yt=[0,200,400],yl="CRP (mg/l)",ylx=427,yly=905,tx=633,wx=603,p="0.01"),
 dict(n="DDIMER",k="ddimer",hi=ddimer_high,lo=ddimer_low,l=867,r=1168,row=1,c=948,d=139,ylim=(-5.9,125.8),yt=[0,25,50,75,100,125],yl="DDIMER (mg/l_feu)",ylx=811,yly=960,tx=1018,wx=992,p="2e\u221205"),
 dict(n="Procalcitonin",k="procal",hi=procal_high,lo=procal_low,l=1240,r=1552,row=1,c=1325,d=142,ylim=(-6.3,92),yt=[0,25,50,75],yl="Procalcitonin (ng/ml)",ylx=1195,yly=935,tx=1396,wx=1366,p="0.015")]

# ------------------------------------------------------------------ (A)
ax = axpx(36, 27, 345, 279)
ax.fill_between(a_cloud_x, a_cloud_lo, a_cloud_hi, color="#1c1c1c", lw=0, zorder=1)
x_g, y_g = pts(a_grey); x_r, y_r = pts([], a_grey_rows)
x_u, y_u = pts(a_up, a_up_rows); x_d, y_d = pts(a_down, a_down_rows)
volcano(ax, [(x_g, y_g, "#BEBEBE", 2), (x_r, y_r, "#5A5A5A", 2), (x_u, y_u, "#FF0000", 3), (x_d, y_d, "#00EE00", 3)])
volcano_finish(ax, (-4.745, 3.68), (-.86, 17.73), [-4, -2, 0, 2], [0, 5, 10, 15])
T(36.7, 17.7, "The difference of non\u2212COVID\u221219 and COVID\u221219 patients", ha="left", fontsize=6.3, color="#222222")
T(190.7, 292, "log2 (FoldChange)", fontsize=4.9, fontweight="bold")
T(20, 152, "\u2212log10 (P value)", rotation=90, fontsize=4.9, fontweight="bold")
for s, zx, zy in a_labels:
    T(zx/3, zy/3, s, fontsize=6.2, color="#222222", zorder=8)
volcano_legend(356, 362.3, 371.7)
fig.add_artist(Line2D([270/3/W, 317/3/W], [1-510/3/H, 1-568/3/H], color="#222222", lw=.5))

# ------------------------------------------------------------------ (B)
ax = axpx(426, 27, 734, 279)
ax.fill_between(b_cloud_x, b_cloud_lo, b_cloud_hi, color="#0a0a0a", lw=0, zorder=1)
ax.fill_between(b_dense_x, b_dense_lo, b_dense_hi, color="#0F5F0F", lw=0, zorder=2)
x_g, y_g = pts(b_grey); x_r, y_r = pts([], b_grey_rows)
x_u, y_u = pts(b_up); x_d, y_d = pts(b_down); x_dr, y_dr = pts([], b_down_rows)
volcano(ax, [(x_g, y_g, "#BEBEBE", 3), (x_r, y_r, "#555555", 3), (x_dr, y_dr, "#00B400", 4), (x_d, y_d, "#00EE00", 4), (x_u, y_u, "#FF0000", 4)])
volcano_finish(ax, (-3.07, 3.77), (-1.43, 29.4), [-2, 0, 2], [0, 10, 20])
T(426, 17.7, "The difference of cluster1 and cluster2 patients", ha="left", fontsize=6.3, color="#222222")
T(580.3, 292, "log2 (FoldChange)", fontsize=4.9, fontweight="bold")
T(410, 152, "\u2212log10 (P value)", rotation=90, fontsize=4.9, fontweight="bold")
for s, zx, zy in b_labels:
    T(400+zx/3, zy/3, s, fontsize=6.2, color="#222222", zorder=8)
volcano_legend(745.7, 751.3, 761)
fig.add_artist(Line2D([(400+825/3)/W, (400+650/3)/W], [1-420/3/H, 1-578/3/H], color="#222222", lw=.6))

# ------------------------------------------------------------------ (C)
ax = axpx(830, 18, 1065, 165)
ax.set_xlim(830, 1065); ax.set_ylim(165, 18); ax.axis("off")
c_left = Ellipse((911, 95), 138, 124, fc="#7FB27F", ec="none")
c_right = Ellipse((988, 95), 138, 124, fc="#A9C9E8", ec="none")
ax.add_patch(c_left); ax.add_patch(c_right)
c_over = Ellipse((911, 95), 138, 124, fc="#6CA3A6", ec="none")
ax.add_patch(c_over); c_over.set_clip_path(c_right)
T(885, 94, str(venn_counts["cluster only"]), fontsize=4.6)
T(950, 94, str(venn_counts["shared"]), fontsize=4.6)
T(1004.6, 94, str(venn_counts["non only"]), fontsize=4.6)
T(883, 25, "cluster 1/2", fontsize=5.4, color="#B5D6B5")
T(1014, 25, "non/COVID19", fontsize=5.4, color="#BAD6EF")

ax = axpx(851, 199, 1053, 240)
sns.barplot(x=list_names, y=list_sizes, hue=list_names, palette=["#7FB27F", "#A9C9E8"], saturation=1, width=.901,
            legend=False, ax=ax, linewidth=.9)
for b, ec in zip(ax.patches, ("#62A065", "#8FB9E2")):
    b.set_edgecolor(ec)
ax.set_xlim(-.56, 1.659); ax.set_ylim(0, 5676)
ax.set_yticks([0, 2146, 4292]); ax.set_xticks([0, 1]); ax.set_xticklabels(list_names)
classic(ax, .6, "#333333")
ax.tick_params(labelsize=4, labelcolor="#555555", length=1, width=.4, pad=1)
T(950, 197, "Size of each list", fontsize=5, fontstyle="italic", color="#444444")
T(934, 214, "4292", fontsize=3.8, color="white")
T(1027, 227, "974", fontsize=3.8, color="#A9C9E8")
T(950, 260, "Number of elements: specific (1) or shared by 2, 3, ... lists", fontsize=5, fontstyle="italic", color="#444444")

ax = axpx(851, 266, 1053.5, 280)
ax.barh([0], [shared_sizes[0]], left=[0], color="#D6C3D8", edgecolor="#B9A3BC", lw=.4, height=.68)
ax.barh([0], [shared_sizes[1]], left=[shared_sizes[0]], color="#BC9ABC", edgecolor="#A98BAA", lw=.4, height=.68)
ax.set_xlim(-126, 4974); ax.set_ylim(-.55, .5)
ax.set_xticks([]); ax.set_yticks([])
for k in ("top", "left", "right"):
    ax.spines[k].set_visible(False)
ax.spines["bottom"].set_color("#666666"); ax.spines["bottom"].set_linewidth(.7)
ax.set_facecolor("none"); ax.grid(False)
T(863, 273.5, str(shared_sizes[0]), fontsize=3.8, color="white")
T(960, 273.5, str(shared_sizes[1]), fontsize=3.8, color="white")
T(862, 286, "2", fontsize=4, color="#444444"); T(959, 286, "1", fontsize=4, color="#444444")

# ------------------------------------------------------------------ (D)
ax = axpx(1151.3, 35, 1371.6, 251.7)
for col, coef in faint_paths.items():
    sns.lineplot(x=lam_faint, y=coef, color=col, lw=.7, estimator=None, sort=False, ax=ax)
main = [(lam_grid, coef_cystm1, "#B89B00"), (lam_grid, coef_gldn, "#00B050"), (lam_grid, coef_pcolce2, "#00B0E8"),
        (lam_sez6l, coef_sez6l, "#CC66EE"), (lam_sdsl, coef_sdsl, "#D070E8"), (lam_tnf, coef_tnf, "#FF55CC")]
for xs, ys, c in main:
    sns.lineplot(x=xs, y=ys, color=c, lw=1.4, estimator=None, sort=False, ax=ax, zorder=3)
    ax.plot(xs[0], ys[0], "o", ms=4.6, color=c, zorder=4)
ax.axvline(lam_cut, color="#EE1111", ls=(0, (3, 2)), lw=1, zorder=5)
ax.set_xscale("log"); ax.set_xlim(.0023, .346); ax.set_ylim(-2.92, 3.886)
ax.set_xticks([.003, .01, .03, .1, .3]); ax.set_xticklabels(["0.003", "0.010", "0.030", "0.100", "0.300"])
ax.set_xticks([.0055, .017, .055, .17], minor=True); ax.set_xticklabels([], minor=True)
ax.set_yticks([-2, 0, 2]); ax.set_yticklabels(["\u22122", "0", "2"])
ax.set_yticks([-1, 1, 3], minor=True)
ax.grid(True, which="major", color="#EDEDED", lw=.8); ax.grid(True, which="minor", color="#F4F4F4", lw=.5)
ax.set_axisbelow(True)
for s in ax.spines.values():
    s.set_visible(True); s.set_color("#A6A6A6"); s.set_linewidth(1.1)
ax.tick_params(which="major", labelsize=6.6, labelcolor="#555555", length=1.5, width=.5, pad=1.5, bottom=True, left=True)
ax.tick_params(which="minor", length=0)
ax.set_xlabel(""); ax.set_ylabel("")
T(1130, 143, "Coefficients", rotation=90, fontsize=7.2)
T(1261.4, 270, "lambda", fontsize=7.7)
for s, zx, zy in [("CYSTM1", 990, 134), ("GLDN", 955, 369), ("PCOLCE2", 967, 432), ("SEZ6L", 1100, 456), ("SDSL", 1347, 456), ("TNFRSF18", 1002, 571)]:
    T(820+zx/SXC, zy/3, s, fontsize=5.9, color="#222222", zorder=8)

# ------------------------------------------------------------------ (E)-(G)
ax = axpx(81.7, 340, 349, 477)
risk_e_lab = ["low"]*35+["high"]*13
risk_scatter(ax, risk_e, risk_e_lab, (0, 48), (-1.03, 1.93), [0, 10, 20, 30, 40], [-1, 0, 1])
ax.plot([0, 35], [.97, .97], color="#222222", ls=(0, (3, 2)), lw=1.1, zorder=2)
ax.plot([35, 35], [-.9, .97], color="#222222", ls=(0, (3, 2)), lw=1.1, zorder=2)
T(179, 372, "Cutoff: 0.97", fontsize=11, color="#222222")
T(19, 408, "riskScore", rotation=90, fontsize=10)
small_legend("risk", ["high", "low"], [RED, TEAL], 361, 395, 366.5, 376)

ax = axpx(81.7, 500, 349, 626.3)
risk_scatter(ax, days_f, event_f, (0, 48), (.68, 29.4), [0, 10, 20, 30, 40], [10, 20])
ax.axvline(35, color="#444444", ls=(0, (3, 2)), lw=1.0, zorder=2)
T(19, 563, "ventilator_free_days", rotation=90, fontsize=9.6)
T(215, 648, "num", fontsize=7.4, color="#333333")
small_legend("event", ["0", "1"], [TEAL, RED], 365, 550, 370.3, 380)
heat(82, 662, 349, 811, heat_g, 360, 713, 372, 771, 376, 706)

# ------------------------------------------------------------------ (H)(I)
km(448, 344, 675, 551, (km_h_hi_t, km_h_hi_s), (km_h_lo_t, km_h_lo_s), 462.7,
   ["p < 0.001", "Hazard Ratio = 13", "95% CI: 4.1 \u2212 41"], 501.7, [">0.97(13)", "<0.97(35)"], 562, 422)
roc(449.3, 581, 673, 812, (-.053, 1.048), (-.049, 1.047), roc_i, 419, 697, 563, 760)

# ------------------------------------------------------------------ (J)-(L)
ax = axpx(797.3, 345, 1064.7, 482)
risk_j_lab = ["low"]*22+["high"]*10
risk_scatter(ax, risk_j, risk_j_lab, (0, 32), (-1.035, 1.805), [0, 10, 20, 30], [-1, 0, 1])
ax.plot([0, 22], [.97, .97], color="#222222", ls=(0, (3, 2)), lw=1.1, zorder=2)
ax.plot([22, 22], [-.9, .97], color="#222222", ls=(0, (3, 2)), lw=1.1, zorder=2)
T(889, 373, "Cutoff: 0.97", fontsize=11, color="#222222")
T(734.7, 413, "riskScore", rotation=90, fontsize=10)
small_legend("risk", ["high", "low"], [RED, TEAL], 1076, 400, 1082, 1091)

ax = axpx(797.3, 505, 1064.7, 631.7)
risk_scatter(ax, days_k, event_k, (0, 32), (5.9, 30.1), [0, 10, 20, 30], [10, 15, 20, 25, 30])
ax.axvline(22, color="#222222", ls=(0, (3, 2)), lw=.9, zorder=4)
T(734.7, 568, "ventilator_free_days", rotation=90, fontsize=9.6)
T(931, 653, "num", fontsize=7.4, color="#333333")
small_legend("event", ["0", "1"], [TEAL, RED], 1080, 555, 1086, 1096)
heat(797.7, 667, 1064.3, 816, heat_l, 1076, 718, 1087.7, 776, 1091, 711)

# ------------------------------------------------------------------ (M)(N)
km(1161.7, 344, 1388, 551, (km_m_hi_t, km_m_hi_s), (km_m_lo_t, km_m_lo_s), 1176,
   ["p = 0.003", "Hazard Ratio = 10", "95% CI: 2.5 \u2212 43"], 1215, [">0.97(10)", "<0.97(22)"], 1275, 1135.7)
roc(1162, 590, 1386.7, 822, (-.05, 1.05), (-.052, 1.05), roc_n, 1131.7, 706, 1275, 769)

# ------------------------------------------------------------------ (O)
shift_hi = ScaledTranslation(-.085, 0, fig.dpi_scale_trans)
shift_lo = ScaledTranslation(-.07, 0, fig.dpi_scale_trans)
for p in o_panels:
    top, bot = (75, 544) if p["row"] == 0 else (675, 1143)
    ax = axpx(p["l"]/SXO, 820+top/3, p["r"]/SXO, 820+bot/3)
    violin_patch(ax, 0, p["hi"], p["d"], ORANGE)
    violin_patch(ax, 1, p["lo"], p["d"], GREEN)
    box_patch(ax, 0, p["k"]+"_high", .11)
    box_patch(ax, 1, p["k"]+"_low", .11)
    ax.set_xlim((p["l"]-p["c"])/p["d"], (p["r"]-p["c"])/p["d"])
    ax.set_ylim(*p["ylim"])
    ax.set_xticks([0, 1]); ax.set_xticklabels(["high", "low"])
    ax.set_yticks(p["yt"])
    classic(ax, 1.0, "#333333")
    ax.tick_params(length=0, pad=2)
    ax.tick_params(axis="y", length=1.5, width=.5, pad=1)
    for lab in ax.get_xticklabels()+ax.get_yticklabels():
        lab.set_fontsize(7.6); lab.set_color(GRAY)
    labs = ax.get_xticklabels()
    labs[0].set_transform(labs[0].get_transform()+shift_hi)
    labs[1].set_transform(labs[1].get_transform()+shift_lo)
    y0 = 820 if p["row"] == 0 else 1020
    T(p["tx"]/SXO, y0+15, "Plot of "+p["n"], fontsize=6.7, fontweight="bold")
    wy = y0+29.3 if p["k"] != "procal" else y0+31
    T(p["wx"]/SXO, wy, "Wilcoxon, p = "+p["p"], fontsize=4.7, color="#222222")
    T(p["tx"]/SXO, y0+199 if p["row"] == 0 else 1219, "risk", fontsize=5, color="#222222")
    T(p["ylx"]/SXO, 820+p["yly"]/3, p["yl"], rotation=90, fontsize=7.2, color="#222222")

# ------------------------------------------------------------------ (P)
LOW_C, HIGH_C = "#66C2A5", "#FC8D62"
for i, off in enumerate((0, 513, 1026)):
    l, r = 680+(80+off)/SXP, 680+(440+off)/SXP
    ax = axpx(l, 820+165/3, r, 820+1042/3)
    cats = p_cats[i]
    sns.barplot(x=cats, y=[1, 1], color=LOW_C, saturation=1, width=.897, edgecolor="#22332c", linewidth=.8, ax=ax, zorder=3)
    sns.barplot(x=cats, y=p_high[i], color=HIGH_C, saturation=1, width=.897, edgecolor="#22332c", linewidth=.8, ax=ax, zorder=4)
    ax.set_xlim(-.588, 1.594); ax.set_ylim(-.03, 1.03)
    ax.set_yticks(np.arange(0, 1.01, .1)); ax.set_yticklabels([f"{v}%" for v in range(0, 101, 10)])
    ax.set_xticks([0, 1]); ax.set_xticklabels(cats)
    ax.set_xlabel(""); ax.set_ylabel("")
    for s in ax.spines.values():
        s.set_visible(False)
    ax.grid(True, axis="y", color="#F0F0F0", lw=.6); ax.grid(False, axis="x"); ax.set_axisbelow(True)
    ax.tick_params(axis="y", labelsize=4.8, labelcolor="#666666", length=1, width=.4, pad=1, left=True, color="#666666")
    ax.tick_params(axis="x", labelsize=4.6, labelcolor="#777777", length=0, pad=17)
    for j in range(2):
        h = p_high[i][j]; lo = 1-h
        for yy, v in ((h/2, h), (h+lo/2, lo)):
            ax.text(j, yy, f"{round(v*100)}%", ha="center", va="center", fontsize=5.4, zorder=6, color="#222222",
                    bbox=dict(boxstyle="round,pad=0.25", fc="white", ec="#666666", lw=.5))
        cx = 680+(177+off+165*j)/SXP
        T(cx, 870, "p = "+p_pvals[i][j], fontsize=4.2, fontstyle="italic", color="#333333")
        T(cx, 1173, f"(n = {p_n[i][j]})", fontsize=5.6, color="#222222")
    T(680+(78+off)/SXP, 846, p_top[i], ha="left", fontsize=4.85, color="#333333")
    T(680+(259+off)/SXP, 1201, p_xlabels[i], fontsize=5.3, fontweight="bold")
    T(680+(235+off)/SXP, 1214, p_bot[i], fontsize=4.3, color="#333333")
    px0 = 680+(466+off)/SXP
    T(px0, 1009, "risk", ha="left", fontsize=5.2, fontweight="bold")
    h = [Patch(fc=LOW_C, ec="#333333", lw=.6), Patch(fc=HIGH_C, ec="#333333", lw=.6)]
    fig.legend(h, ["low", "high"], loc="upper left", bbox_to_anchor=(px0/W, 1-1015.5/H), frameon=False,
               prop={"size": 5}, handlelength=1.6, handleheight=1.45, handletextpad=.55,
               labelspacing=.2, borderpad=0, borderaxespad=0)

# ------------------------------------------------------------------ panel letters
panel_letters = [("(A)",0,12),("(B)",387,12),("(C)",793,15),("(D)",1093.6,15),("(E)",5,357),("(F)",0,482),("(G)",0,667),("(H)",383,351),("(I)",387,593),("(J)",716,363),("(K)",717,488),("(L)",714,668),("(M)",1095,353),("(N)",1103,596),("(O)",0,846),("(P)",680,846)]
for s, x, y in panel_letters:
    T(x, y, s, ha="left", fontsize=17, fontweight="bold", color="black", zorder=10)

fig.savefig("out.png", dpi=100)
